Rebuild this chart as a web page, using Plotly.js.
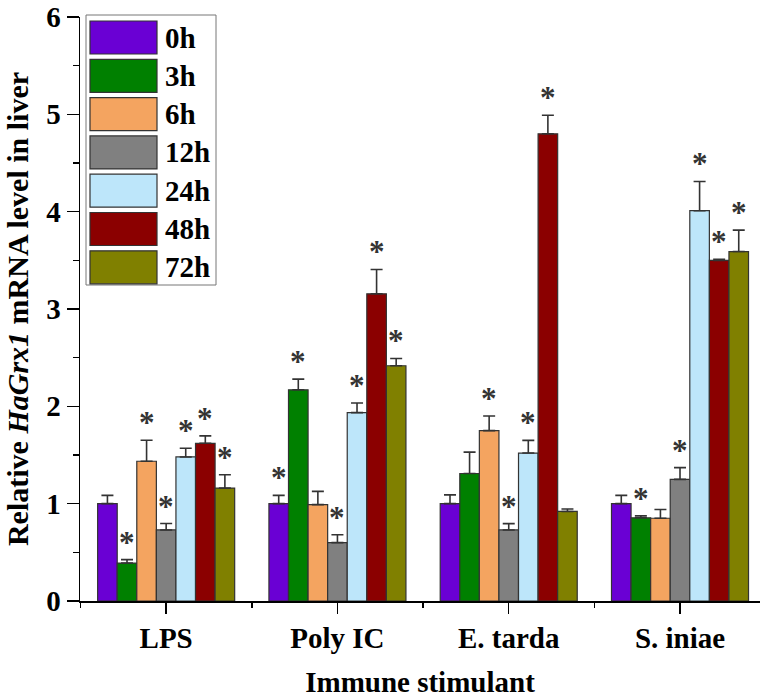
<!DOCTYPE html>
<html>
<head>
<meta charset="utf-8">
<script src="https://cdn.plot.ly/plotly-3.0.1.min.js"></script>
<style>html,body{margin:0;padding:0;background:#fff;}#chart{width:760px;height:699px;}</style>
</head>
<body>
<div id="chart"></div>
<script>
// ---- data ----
const categories = ['LPS', 'Poly IC', 'E. tarda', 'S. iniae'];
const seriesNames = ['0h', '3h', '6h', '12h', '24h', '48h', '72h'];
const seriesColors = ['#6A00D4', '#008000', '#F4A460', '#808080', '#BDE6FA', '#8B0000', '#808000'];

const h0  = [1.00, 1.00, 1.00, 1.00];
const h3  = [0.39, 2.17, 1.31, 0.855];
const h6  = [1.436, 0.99, 1.75, 0.85];
const h12 = [0.73, 0.60, 0.73, 1.25];
const h24 = [1.48, 1.935, 1.52, 4.01];
const h48 = [1.62, 3.156, 4.80, 3.50];
const h72 = [1.16, 2.417, 0.92, 3.59];

const e0  = [0.085, 0.085, 0.09, 0.085];
const e3  = [0.035, 0.11, 0.22, 0.02];
const e6  = [0.215, 0.136, 0.15, 0.09];
const e12 = [0.066, 0.08, 0.065, 0.12];
const e24 = [0.09, 0.10, 0.13, 0.30];
const e48 = [0.077, 0.25, 0.19, 0.01];
const e72 = [0.137, 0.075, 0.025, 0.22];

// significance marks (1 = asterisk)
const s0  = [0, 1, 0, 0];
const s3  = [1, 1, 0, 1];
const s6  = [1, 0, 1, 0];
const s12 = [1, 1, 1, 1];
const s24 = [1, 1, 1, 1];
const s48 = [1, 1, 1, 1];
const s72 = [1, 1, 0, 1];

const yTickVals = [0, 1, 2, 3, 4, 5, 6];

// ---- build ----
const values = [h0, h3, h6, h12, h24, h48, h72];
const errors = [e0, e3, e6, e12, e24, e48, e72];
const sigs = [s0, s3, s6, s12, s24, s48, s72];

const FONT = '"Liberation Serif", "Times New Roman", "DejaVu Serif", serif';
const groupW = 0.8;
const nS = seriesNames.length;
const bw = groupW / nS;
const catIdx = categories.map((c, i) => i);

const traces = [];
const annotations = [];
for (let j = 0; j < nS; j++) {
  const off = -groupW / 2 + j * bw;
  traces.push({
    type: 'bar',
    name: seriesNames[j],
    x: catIdx,
    y: values[j],
    width: bw,
    offset: off,
    showlegend: false,
    marker: {color: seriesColors[j], line: {color: '#333', width: 1.2}},
    error_y: {type: 'data', array: errors[j], arrayminus: values[j].map(() => 0),
              symmetric: false, color: '#333', thickness: 1.6, width: 6}
  });
  for (let i = 0; i < categories.length; i++) {
    if (sigs[j][i]) {
      annotations.push({
        x: i + off + bw / 2, y: values[j][i] + errors[j][i],
        xref: 'x', yref: 'y', text: '*', showarrow: false,
        yanchor: 'bottom', yshift: -2,
        font: {family: FONT, size: 31, color: '#333', weight: 'bold'}
      });
    }
  }
}

// ---- custom legend (large swatches) ----
const L = 80, T = 17, W = 680, H = 584;
const px = p => (p - L) / W;
const py = p => (T + H - p) / H;
const shapes = [];
shapes.push({type: 'rect', xref: 'paper', yref: 'paper',
  x0: px(86), x1: px(216), y0: py(15), y1: py(285),
  line: {color: '#777', width: 1}, fillcolor: 'rgba(255,255,255,1)', layer: 'above'});
for (let j = 0; j < nS; j++) {
  const top = 21 + j * 38.3;
  shapes.push({type: 'rect', xref: 'paper', yref: 'paper',
    x0: px(90), x1: px(157), y0: py(top), y1: py(top + 33),
    line: {color: '#333', width: 1.2}, fillcolor: seriesColors[j], layer: 'above'});
  annotations.push({xref: 'paper', yref: 'paper', x: px(163), y: py(top + 16.5),
    xanchor: 'left', yanchor: 'middle', showarrow: false, text: seriesNames[j],
    font: {family: FONT, size: 29, color: '#000', weight: 'bold'}});
}

const layout = {
  width: 760, height: 699,
  margin: {l: L, r: 0, t: T, b: 98},
  paper_bgcolor: '#fff', plot_bgcolor: '#fff',
  barmode: 'overlay',
  font: {family: FONT, color: '#000'},
  xaxis: {
    range: [-0.503, 3.467],
    tickmode: 'array', tickvals: catIdx, ticktext: categories,
    ticks: 'outside', ticklen: 11, tickwidth: 1.5, tickcolor: '#000',
    minor: {tickmode: 'array', tickvals: [-0.5, 0.5, 1.5, 2.5], ticks: 'outside', ticklen: 5, tickwidth: 1.5, tickcolor: '#000'},
    showline: true, linecolor: '#000', linewidth: 1.5,
    showgrid: false, zeroline: false, automargin: false,
    tickfont: {family: FONT, size: 29, weight: 'bold', color: '#000'},
    title: {text: 'Immune stimulant', standoff: 18,
            font: {family: FONT, size: 29, weight: 'bold', color: '#000'}}
  },
  yaxis: {
    range: [0, 6],
    tickmode: 'array', tickvals: yTickVals,
    ticks: 'outside', ticklen: 12, tickwidth: 1.5, tickcolor: '#000',
    minor: {dtick: 0.5, tick0: 0, ticks: 'outside', ticklen: 6, tickwidth: 1.5, tickcolor: '#000'},
    showline: true, linecolor: '#000', linewidth: 1.5,
    showgrid: false, zeroline: false, automargin: false,
    tickfont: {family: FONT, size: 29, weight: 'bold', color: '#000'},
    title: {text: 'Relative <i>HaGrx1</i> mRNA level in liver', standoff: 8,
            font: {family: FONT, size: 30, weight: 'bold', color: '#000'}}
  },
  shapes: shapes,
  annotations: annotations
};

Plotly.newPlot('chart', traces, layout, {displayModeBar: false, staticPlot: true});
</script>
</body>
</html>
